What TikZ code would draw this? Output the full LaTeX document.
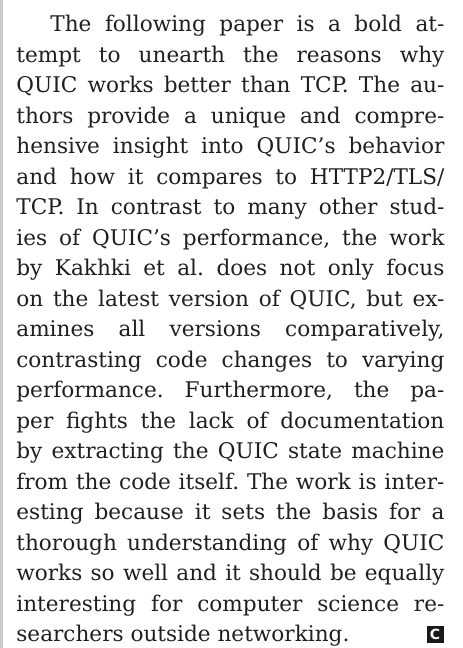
\documentclass[tikz,border=0pt]{standalone}
\usepackage{fontspec}
\setmainfont{DejaVu Serif}
\setsansfont{DejaVu Sans}
\usetikzlibrary{positioning}
\newcommand{\jline}[1]{\hbox to\hsize{#1}}

\begin{document}
\begin{tikzpicture}[x=1pt,y=1pt,
   para/.style={anchor=base west, inner sep=0pt, text=black!88},
   endmark/.style={anchor=south east, fill=black!90, text=white, inner sep=0pt,
      minimum size=8.5pt, font=\sffamily\bfseries\fontsize{7}{7}\selectfont}]
   \useasboundingbox (0,0) rectangle (231,324);
   \fill[black!20] (0,0) rectangle (1.5,324);
   \node[para] (review) at (8,308) {\fontsize{10.8}{15.25}\selectfont\frenchspacing
      \vtop{\hsize=214pt \lineskiplimit=-\maxdimen
      \jline{\hskip17pt The following paper is a bold at-}
      \jline{tempt to unearth the reasons why}
      \jline{QUIC works better than TCP. The au-}
      \jline{thors provide a unique and compre-}
      \jline{hensive insight into QUIC’s behavior}
      \jline{and how it compares to HTTP2/TLS/}
      \jline{TCP. In contrast to many other stud-}
      \jline{ies of QUIC’s performance, the work}
      \jline{by Kakhki et al. does not only focus}
      \jline{on the latest version of QUIC, but ex-}
      \jline{amines all versions comparatively,}
      \jline{contrasting code changes to varying}
      \jline{performance. Furthermore, the pa-}
      \jline{per fights the lack of documentation}
      \jline{by extracting the QUIC state machine}
      \jline{from the code itself. The work is inter-}
      \jline{esting because it sets the basis for a}
      \jline{thorough understanding of why QUIC}
      \jline{works so well and it should be equally}
      \jline{interesting for computer science re-}
      \jline{searchers outside networking.\hfil}}};
   \node[endmark] (mark) at (222,2.5) {C};
\end{tikzpicture}
\end{document}
